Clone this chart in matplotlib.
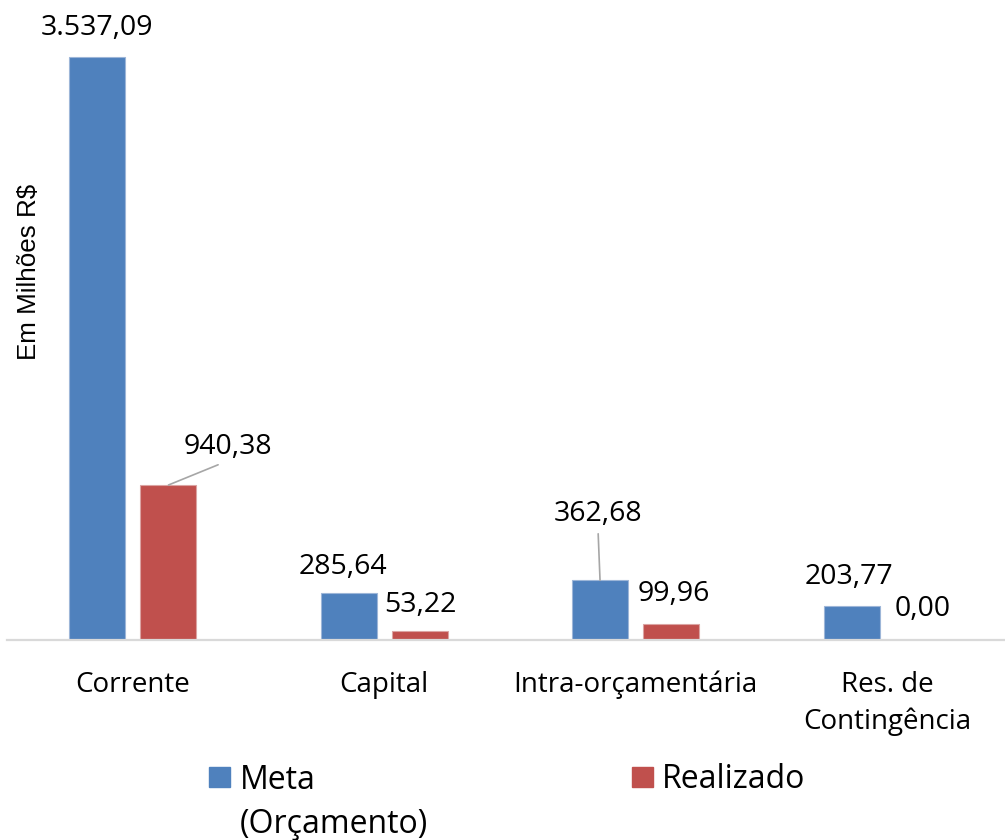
import numpy as np
import matplotlib
matplotlib.use("Agg")
import matplotlib.pyplot as plt
from matplotlib.patches import Rectangle

# data
categories = ["Corrente", "Capital", "Intra-orçamentária", "Res. de\nContingência"]
meta = [3537.09, 285.64, 362.68, 203.77]
realizado = [940.38, 53.22, 99.96, 0.00]
series_names = ["Meta\n(Orçamento)", "Realizado"]

blue = "#4F81BD"
red = "#C0504D"

plt.rcParams['font.family'] = ['Open Sans', 'DejaVu Sans']


def fmt_br(v):
    s = f"{v:,.2f}"
    return s.replace(",", "X").replace(".", ",").replace("X", ".")


fig = plt.figure(figsize=(10.05, 8.4), dpi=100)
ax = fig.add_axes([7 / 1005, 200 / 840, 1006 / 1005, 640 / 840])

x = np.arange(len(categories))
off = 0.142
w = 0.2227
b1 = ax.bar(x - off, meta, w, color=blue, edgecolor="#9db6d8", linewidth=0.8)
b2 = ax.bar(x + off, realizado, w, color=red, edgecolor="#dba4a3", linewidth=0.8)

ax.set_xlim(-0.5, len(categories) - 0.5)
ax.set_ylim(0, 3883)

# data labels (offsets in points, two of them pulled out with leader lines)
meta_offsets = [(0, 21), (-4, 19), (-1.5, 47.5), (-2, 21)]
real_offsets = [(42.5, 27.4), (0, 19), (1.5, 21.5), (0, 22)]
for bars, vals, offsets in [(b1, meta, meta_offsets), (b2, realizado, real_offsets)]:
    for rect, v, (dx, dy) in zip(bars, vals, offsets):
        xc = rect.get_x() + rect.get_width() / 2
        leader = abs(dx) > 20 or dy > 40
        ax.annotate(fmt_br(v), xy=(xc, v), xytext=(dx, dy), textcoords="offset points",
                    ha="center", va="center", fontsize=20.5,
                    arrowprops=dict(arrowstyle="-", color="#a6a6a6", lw=1.2,
                                    relpos=(0.5, 0), shrinkA=2, shrinkB=0) if leader else None)

ax.set_xticks(x)
ax.set_xticklabels(categories, fontsize=20, linespacing=1.42)
ax.tick_params(axis="x", length=0, pad=22)
ax.set_yticks([])
for s in ["top", "right", "left"]:
    ax.spines[s].set_visible(False)
ax.spines["bottom"].set_color("#d9d9d9")
ax.spines["bottom"].set_linewidth(1.6)

fig.text(29 / 1005, 1 - 272 / 840, "Em Milhões R$", rotation=90, ha="center", va="center",
         fontsize=18.7, family="Liberation Sans")

# legend (square next to the first line of each entry)
for (lx, tx), name, col in zip([(209, 240), (632, 662)], series_names, [blue, red]):
    fig.patches.append(Rectangle((lx / 1005, 1 - 787 / 840), 21 / 1005, 20 / 840,
                                 transform=fig.transFigure, color=col))
    base = 788 + 45 * name.count("\n")
    fig.text(tx / 1005, 1 - base / 840, name, ha="left", va="baseline", fontsize=23,
             linespacing=1.45)

fig.savefig("out.png", dpi=100)
